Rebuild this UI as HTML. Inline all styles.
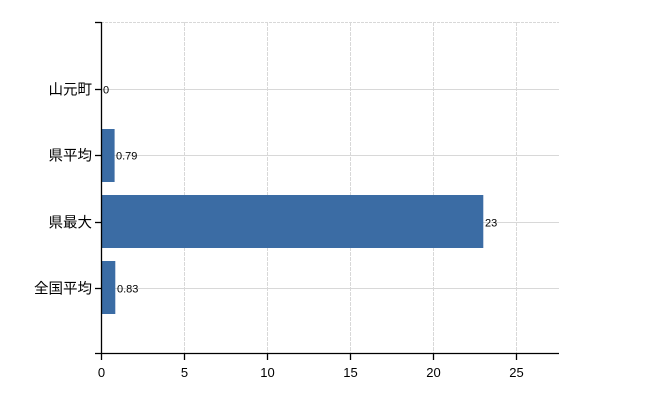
<!DOCTYPE html>
<html><head><meta charset="utf-8"><style>
html,body{margin:0;padding:0;background:#fff;}
svg{display:block;font-family:"Liberation Sans","Noto Sans CJK JP",sans-serif;}
</style></head><body>
<svg width="650" height="400" xmlns="http://www.w3.org/2000/svg">
<g stroke="#d8d8d8" stroke-width="1">
<line x1="101" y1="22.5" x2="559" y2="22.5" stroke-dasharray="3,1"/>
<line x1="101" y1="89.5" x2="559" y2="89.5"/>
<line x1="101" y1="155.5" x2="559" y2="155.5"/>
<line x1="101" y1="222.5" x2="559" y2="222.5"/>
<line x1="101" y1="288.5" x2="559" y2="288.5"/>
<g stroke-dasharray="4,1">
<line x1="184.5" y1="22" x2="184.5" y2="354"/>
<line x1="267.5" y1="22" x2="267.5" y2="354"/>
<line x1="350.5" y1="22" x2="350.5" y2="354"/>
<line x1="433.5" y1="22" x2="433.5" y2="354"/>
<line x1="516.5" y1="22" x2="516.5" y2="354"/>
</g></g>
<g fill="#3b6ca4">
<rect x="101.5" y="129" width="13.1" height="53"/>
<rect x="101.5" y="195" width="381.8" height="53"/>
<rect x="101.5" y="261" width="13.8" height="53"/>
</g>
<g stroke="#000" stroke-width="1.3">
<line x1="101.5" y1="22" x2="101.5" y2="354"/>
<line x1="95" y1="22.5" x2="101.5" y2="22.5"/>
<line x1="95" y1="89.5" x2="101.5" y2="89.5"/>
<line x1="95" y1="155.5" x2="101.5" y2="155.5"/>
<line x1="95" y1="222.5" x2="101.5" y2="222.5"/>
<line x1="95" y1="288.5" x2="101.5" y2="288.5"/>
<line x1="95" y1="353.5" x2="559" y2="353.5"/>
<line x1="101.5" y1="353" x2="101.5" y2="360"/>
<line x1="184.5" y1="353" x2="184.5" y2="360"/>
<line x1="267.5" y1="353" x2="267.5" y2="360"/>
<line x1="350.5" y1="353" x2="350.5" y2="360"/>
<line x1="433.5" y1="353" x2="433.5" y2="360"/>
<line x1="516.5" y1="353" x2="516.5" y2="360"/>
</g>
<g font-size="14.5" text-anchor="end" fill="#000">
<text x="92" y="94.5">山元町</text>
<text x="92" y="160.5">県平均</text>
<text x="92" y="227.5">県最大</text>
<text x="92" y="293.5">全国平均</text>
</g>
<g font-size="13" text-anchor="middle" fill="#000">
<text x="101.5" y="377">0</text>
<text x="184.5" y="377">5</text>
<text x="267.5" y="377">10</text>
<text x="350.5" y="377">15</text>
<text x="433.5" y="377">20</text>
<text x="516.5" y="377">25</text>
</g>
<g font-size="11" fill="#000">
<text x="103" y="93.5">0</text>
<text x="116" y="159.5">0.79</text>
<text x="485" y="226.5">23</text>
<text x="117" y="292.5">0.83</text>
</g>
</svg>
</body></html>
